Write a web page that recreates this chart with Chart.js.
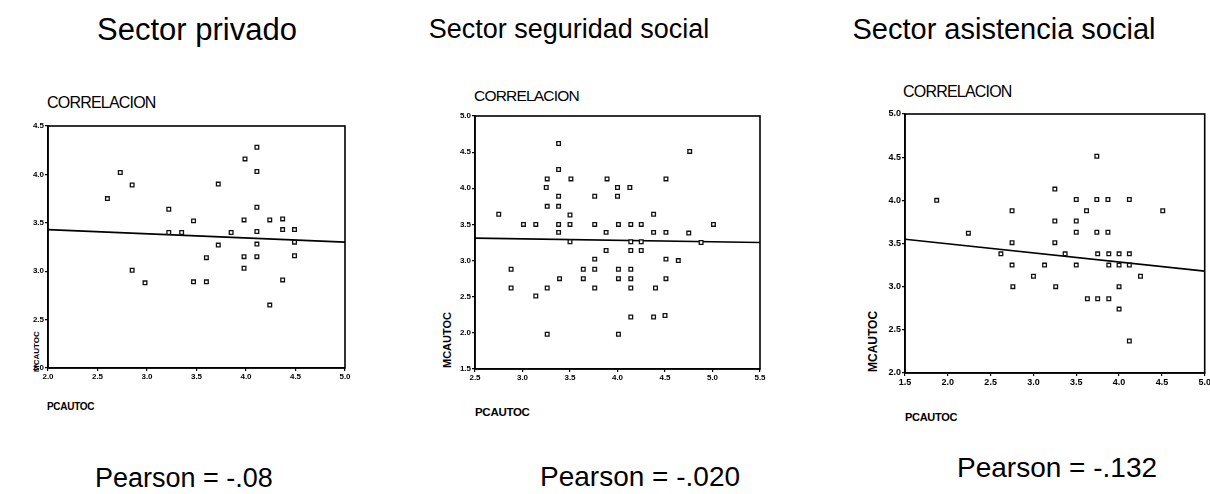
<!DOCTYPE html>
<html lang="es">
<head>
  <meta charset="UTF-8" />
  <title>Correlación MCAUTOC - PCAUTOC por sector</title>
  <script src="https://cdn.jsdelivr.net/npm/chart.js"></script>
  <style>
    html, body { margin: 0; padding: 0; background: #fff; overflow: hidden; }
    body { width: 1210px; height: 494px; position: relative; font-family: "Liberation Sans", Arial, sans-serif; color: #000; }
    .txt { position: absolute; white-space: nowrap; line-height: 1; }
    .title { text-align: center; width: 400px; }
    .corr { font-size: 16px; letter-spacing: -0.8px; }
    .xlab { font-weight: bold; letter-spacing: -0.3px; }
    .ylab { font-weight: bold; transform-origin: left top; transform: rotate(-90deg); }
    canvas { position: absolute; }
  </style>
</head>
<body>
  <div class="txt title" style="left:-3px; top:14px; font-size:31px;">Sector privado</div>
  <div class="txt title" style="left:369px; top:16px; font-size:27px;">Sector seguridad social</div>
  <div class="txt title" style="left:804px; top:15px; font-size:29px;">Sector asistencia social</div>

  <div class="txt corr" style="left:47px; top:95px;">CORRELACION</div>
  <div class="txt corr" style="left:474px; top:88px; font-size:15.5px;">CORRELACION</div>
  <div class="txt corr" style="left:903px; top:84px;">CORRELACION</div>

  <div class="txt ylab" style="left:33px; top:372px; font-size:8px;">MCAUTOC</div>
  <div class="txt ylab" style="left:442px; top:368px; font-size:11px;">MCAUTOC</div>
  <div class="txt ylab" style="left:867px; top:372px; font-size:12px;">MCAUTOC</div>

  <div class="txt xlab" style="left:47px; top:402px; font-size:10px;">PCAUTOC</div>
  <div class="txt xlab" style="left:475px; top:407px; font-size:11.5px;">PCAUTOC</div>
  <div class="txt xlab" style="left:905px; top:412px; font-size:11px;">PCAUTOC</div>

  <div class="txt" style="left:95px; top:465px; font-size:27px;">Pearson = -.08</div>
  <div class="txt" style="left:540px; top:463px; font-size:28px;">Pearson = -.020</div>
  <div class="txt" style="left:957px; top:454px; font-size:28px;">Pearson = -.132</div>

  <canvas id="privado" width="350" height="275" style="left:10px; top:115px;"></canvas>
  <canvas id="seguridad" width="335" height="285" style="left:440px; top:105px;"></canvas>
  <canvas id="asistencia" width="340" height="290" style="left:870px; top:104px;"></canvas>

  <script>
    // Sector privado
    const privadoX = [2.60, 2.73, 2.85, 3.22, 3.47, 3.22, 3.35, 2.85, 2.98, 3.72, 3.99, 4.11, 4.11, 4.11, 3.98, 4.24, 4.37,
      4.37, 4.49, 3.85, 4.11, 3.72, 4.11, 4.49, 3.60, 3.98, 4.11, 4.49, 3.98, 3.47, 3.60, 4.37, 4.24];
    const privadoY = [3.75, 4.02, 3.89, 3.64, 3.52, 3.40, 3.40, 3.01, 2.88, 3.90, 4.16, 4.28, 4.03, 3.66, 3.53, 3.53, 3.54,
      3.43, 3.43, 3.40, 3.41, 3.27, 3.28, 3.30, 3.14, 3.15, 3.15, 3.16, 3.03, 2.89, 2.89, 2.91, 2.65];
    const privadoFitX = [2.0, 5.0];
    const privadoFitY = [3.43, 3.30];
    const privadoXTicks = [2.0, 2.5, 3.0, 3.5, 4.0, 4.5, 5.0];
    const privadoYTicks = [2.0, 2.5, 3.0, 3.5, 4.0, 4.5];

    // Sector seguridad social
    const seguridadX = [2.75, 2.88, 2.88, 3.01, 3.14, 3.14, 3.26, 3.25, 3.26, 3.26, 3.26, 3.38, 3.38, 3.38, 3.38, 3.38,
      3.38, 3.39, 3.51, 3.50, 3.50, 3.50, 3.64, 3.64, 3.76, 3.76, 3.76, 3.76, 3.76, 3.89, 3.88, 3.88, 4.00, 4.00, 4.01,
      4.01, 4.01, 4.01, 4.13, 4.14, 4.14, 4.14, 4.14, 4.14, 4.14, 4.14, 4.25, 4.25, 4.25, 4.38, 4.38, 4.40, 4.38, 4.51,
      4.51, 4.51, 4.51, 4.50, 4.64, 4.76, 4.75, 4.88, 5.01];
    const seguridadY = [3.64, 2.88, 2.62, 3.50, 3.50, 2.51, 4.13, 4.01, 3.75, 2.62, 1.98, 4.62, 4.26, 3.89, 3.75, 3.50,
      3.39, 2.75, 4.13, 3.63, 3.50, 3.26, 2.88, 2.75, 3.89, 3.50, 3.02, 2.88, 2.62, 4.13, 3.39, 3.14, 4.01, 3.89, 3.50,
      2.88, 2.75, 1.98, 4.01, 3.50, 3.26, 3.14, 2.88, 2.75, 2.62, 2.22, 3.50, 3.26, 3.14, 3.64, 3.39, 2.62, 2.22, 4.13,
      3.39, 3.02, 2.75, 2.24, 3.00, 4.51, 3.38, 3.25, 3.50];
    const seguridadFitX = [2.5, 5.5];
    const seguridadFitY = [3.31, 3.25];
    const seguridadXTicks = [2.5, 3.0, 3.5, 4.0, 4.5, 5.0, 5.5];
    const seguridadYTicks = [1.5, 2.0, 2.5, 3.0, 3.5, 4.0, 4.5, 5.0];

    // Sector asistencia social
    const asistenciaX = [1.87, 2.24, 2.62, 2.75, 2.75, 2.75, 2.76, 3.00, 3.13, 3.25, 3.25, 3.25, 3.26, 3.37, 3.50, 3.50,
      3.50, 3.50, 3.62, 3.63, 3.74, 3.74, 3.74, 3.75, 3.75, 3.87, 3.87, 3.88, 3.88, 3.88, 4.00, 4.00, 4.00, 4.00, 4.12,
      4.12, 4.12, 4.12, 4.25, 4.51];
    const asistenciaY = [4.00, 3.62, 3.38, 3.88, 3.51, 3.25, 3.00, 3.12, 3.25, 4.13, 3.76, 3.51, 3.00, 3.38, 4.01, 3.76,
      3.63, 3.25, 3.88, 2.86, 4.51, 4.01, 3.63, 3.38, 2.86, 4.01, 3.63, 3.38, 3.25, 2.86, 3.38, 3.25, 3.00, 2.74, 4.01,
      3.38, 3.25, 2.37, 3.12, 3.88];
    const asistenciaFitX = [1.5, 5.0];
    const asistenciaFitY = [3.55, 3.18];
    const asistenciaXTicks = [1.5, 2.0, 2.5, 3.0, 3.5, 4.0, 4.5, 5.0];
    const asistenciaYTicks = [2.0, 2.5, 3.0, 3.5, 4.0, 4.5, 5.0];

    // box around the plotting area
    const frame = {
      id: 'frame',
      afterDatasetsDraw(chart) {
        const { ctx, chartArea: a } = chart;
        ctx.save();
        ctx.strokeStyle = '#000';
        ctx.lineWidth = 1.6;
        ctx.strokeRect(a.left, a.top, a.width, a.height);
        ctx.restore();
      }
    };

    function axis(ticks, size, fontSize, horizontal) {
      return {
        type: 'linear',
        min: ticks[0],
        max: ticks[ticks.length - 1],
        afterBuildTicks: s => { s.ticks = ticks.map(v => ({ value: v })); },
        afterFit: s => {
          if (horizontal) s.height = size; else s.width = size;
          s.paddingLeft = 0; s.paddingRight = 0; s.paddingTop = 0; s.paddingBottom = 0;
        },
        grid: { drawOnChartArea: false, drawTicks: true, tickLength: 3, color: '#000', lineWidth: 1.2 },
        border: { color: '#000', width: 1.6 },
        ticks: {
          autoSkip: false,
          maxRotation: 0,
          padding: 1,
          color: '#000',
          font: { family: 'Liberation Sans', size: fontSize, weight: 'bold' },
          callback: v => v.toFixed(1)
        }
      };
    }

    function makeChart(id, xs, ys, fitX, fitY, xTicks, yTicks, box) {
      const points = xs.map((x, i) => ({ x, y: ys[i] }));
      const fit = fitX.map((x, i) => ({ x, y: fitY[i] }));
      return new Chart(document.getElementById(id), {
        type: 'scatter',
        data: {
          datasets: [
            { data: points, pointStyle: 'rect', pointRadius: 2.6, borderWidth: 1.3,
              borderColor: '#111', backgroundColor: '#fff', order: 1 },
            { data: fit, showLine: true, pointRadius: 0, borderWidth: 1.6,
              borderColor: '#000', order: 2 }
          ]
        },
        options: {
          responsive: false,
          animation: false,
          events: [],
          layout: { padding: { top: box.top, right: box.right, left: 0, bottom: 0 } },
          plugins: { legend: { display: false }, tooltip: { enabled: false } },
          scales: {
            x: axis(xTicks, box.xh, box.font, true),
            y: axis(yTicks, box.yw, box.font, false)
          }
        },
        plugins: [frame]
      });
    }

    makeChart('privado', privadoX, privadoY, privadoFitX, privadoFitY, privadoXTicks, privadoYTicks,
      { top: 11, right: 15, xh: 22, yw: 38, font: 8 });
    makeChart('seguridad', seguridadX, seguridadY, seguridadFitX, seguridadFitY, seguridadXTicks, seguridadYTicks,
      { top: 11, right: 15, xh: 21, yw: 35, font: 8 });
    makeChart('asistencia', asistenciaX, asistenciaY, asistenciaFitX, asistenciaFitY, asistenciaXTicks, asistenciaYTicks,
      { top: 10, right: 4, xh: 21, yw: 35, font: 9 });
  </script>
</body>
</html>
